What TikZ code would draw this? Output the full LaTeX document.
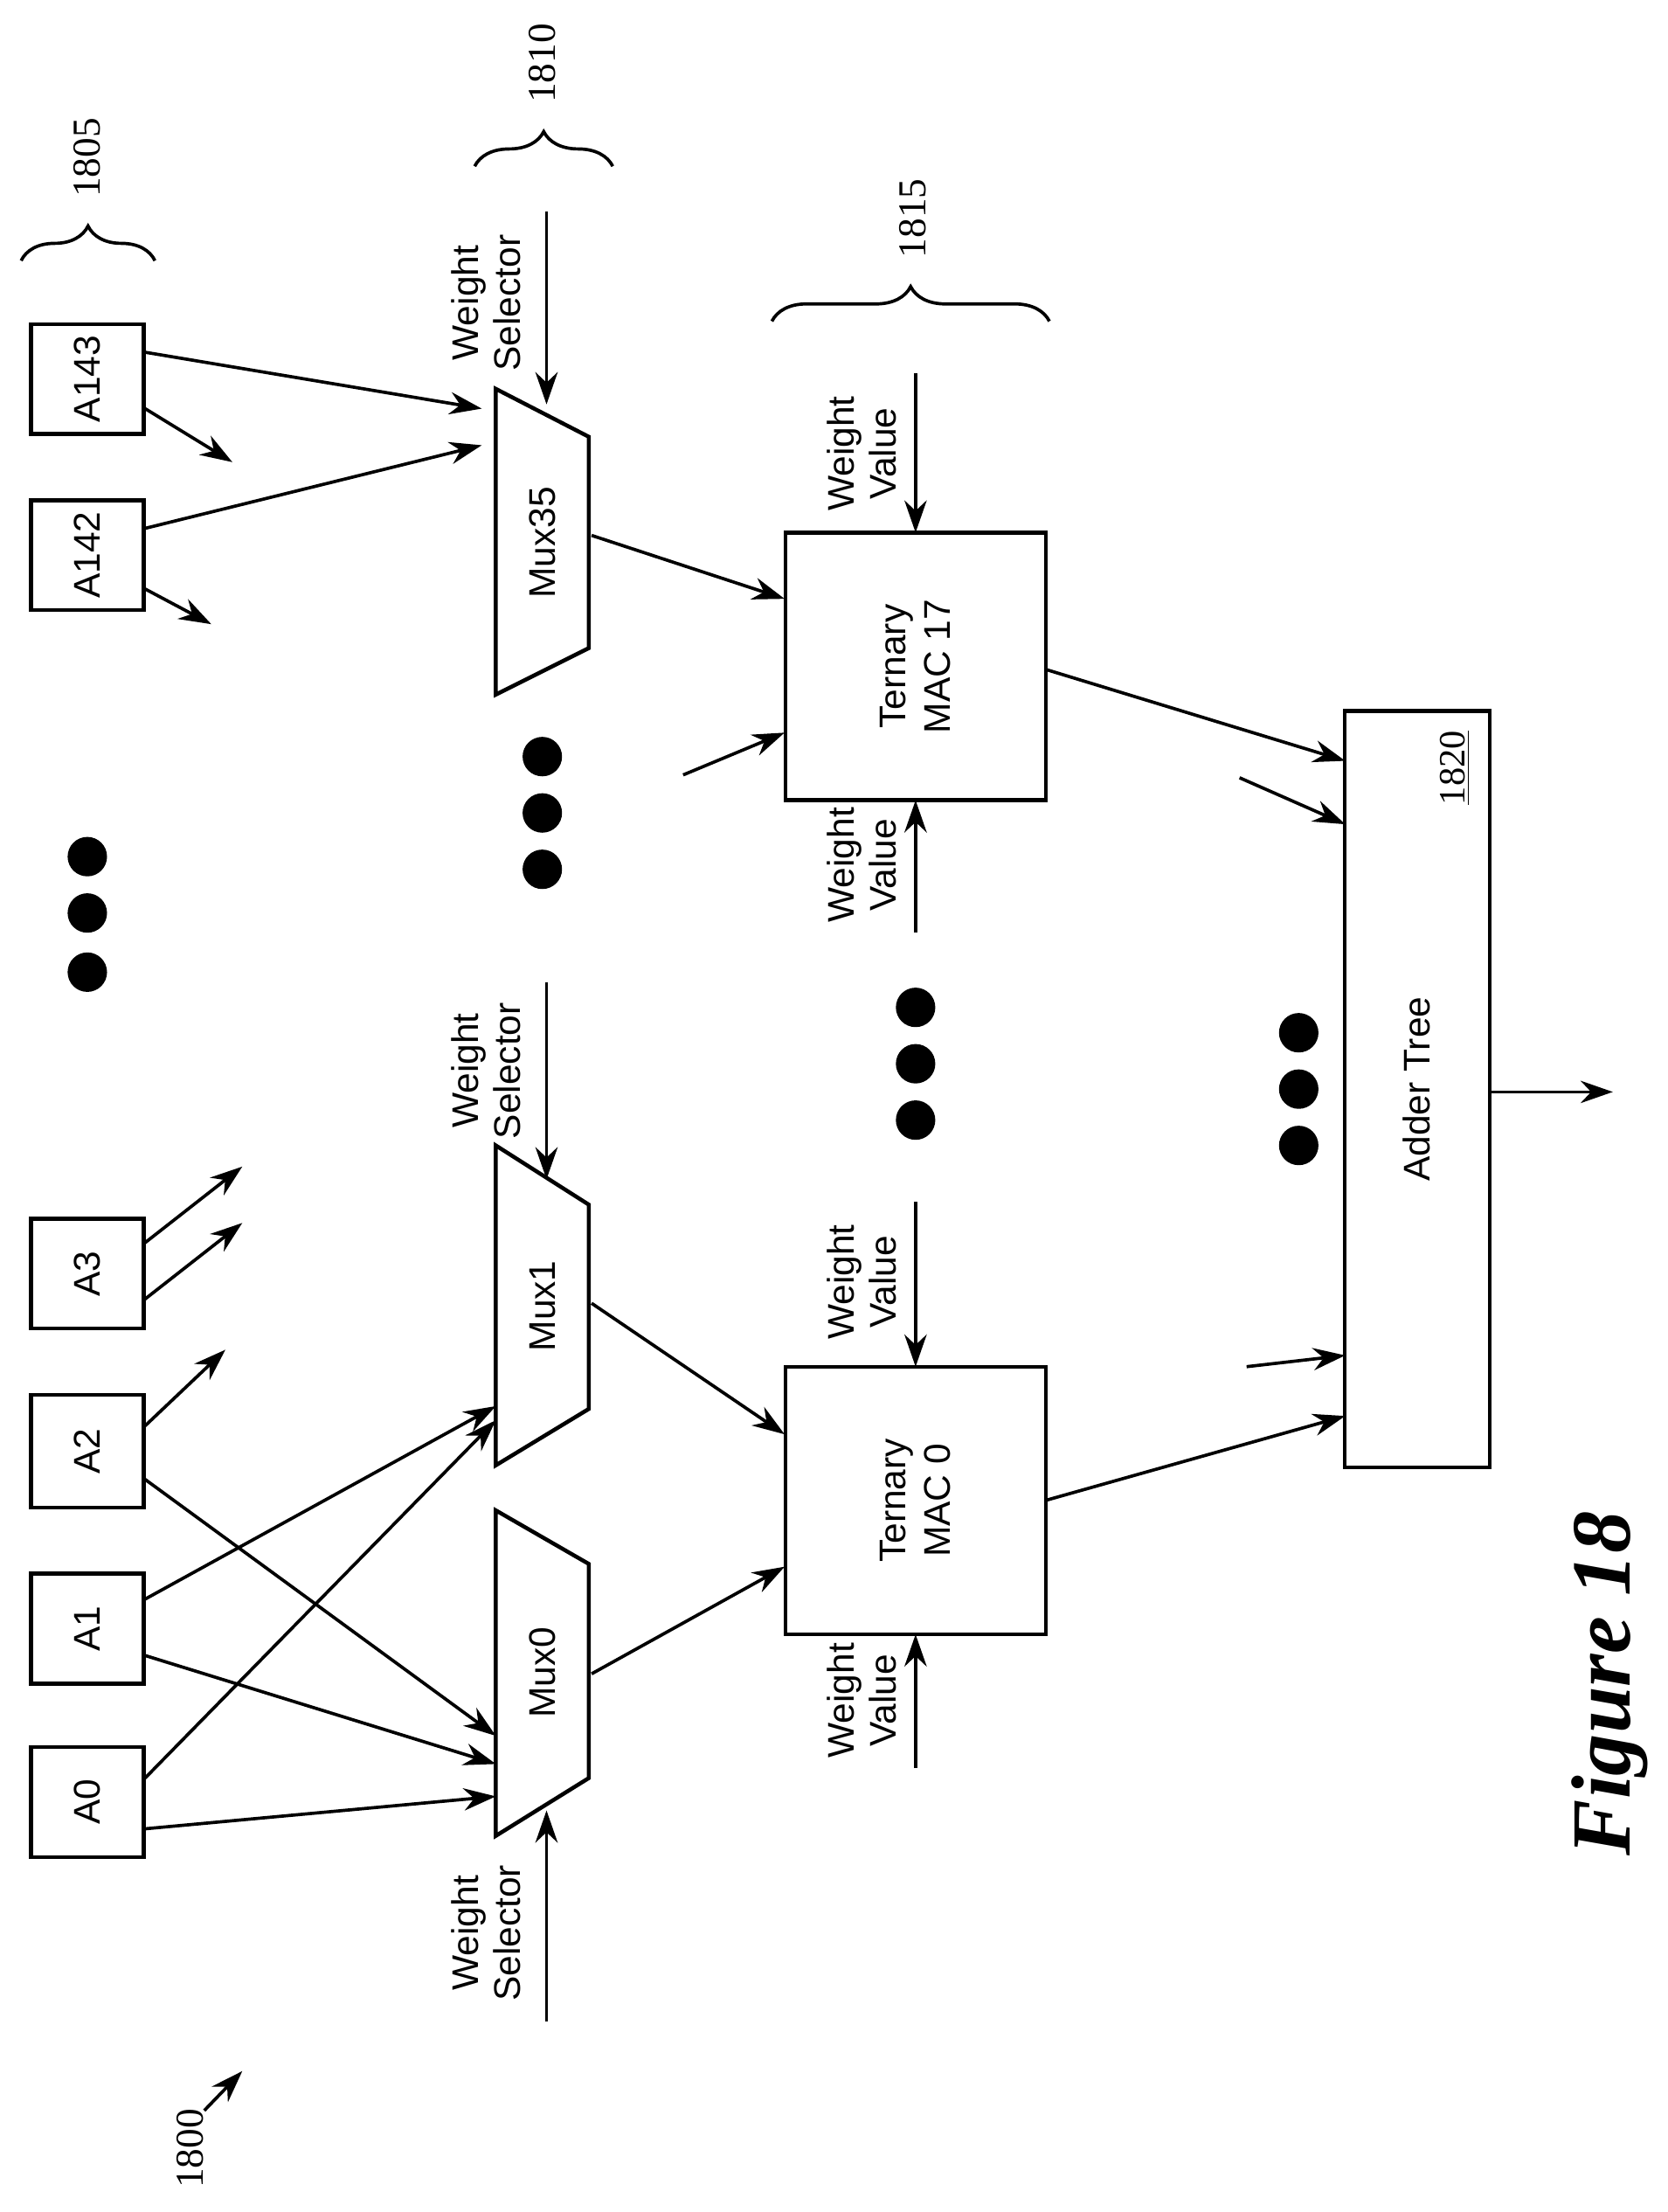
\documentclass[tikz,border=0pt]{standalone}
\usepackage{fontspec}
\setmainfont{Liberation Serif}
\setsansfont{Liberation Sans}
\usetikzlibrary{arrows.meta,decorations.pathreplacing}
\begin{document}
\begin{tikzpicture}[x=0.02cm,y=-0.02cm,>={Stealth[length=13pt,width=9pt]},line width=1.3pt,
    box/.style={draw,line width=1.6pt,rotate=90,font=\sffamily\fontsize{15}{18}\selectfont,align=center,inner sep=0pt},
    lbl/.style={rotate=90,font=\sffamily\fontsize{15}{17}\selectfont,align=center},
    num/.style={rotate=90,font=\fontsize{16}{18}\selectfont},
    dot/.style={circle,fill,inner sep=0pt,minimum size=0.56cm},
    brc/.style={decorate,decoration={brace,amplitude=14pt},line width=1.3pt}]
\useasboundingbox (0,0) rectangle (1184,1570);
% activation boxes
\node[box,minimum width=1.56cm,minimum height=1.6cm] (a0) at (62,1279) {A0};
\node[box,minimum width=1.56cm,minimum height=1.6cm] (a1) at (62,1156) {A1};
\node[box,minimum width=1.6cm,minimum height=1.6cm] (a2) at (62,1030) {A2};
\node[box,minimum width=1.56cm,minimum height=1.6cm] (a3) at (62,904) {A3};
\node[box,minimum width=1.56cm,minimum height=1.6cm] (a142) at (62,394) {A142};
\node[box,minimum width=1.56cm,minimum height=1.6cm] (a143) at (62,269) {A143};
% braces
\draw[brc] (15,185) -- (110,185);
\node[num] (n1805) at (62,112) {1805};
\draw[brc] (337,118) -- (435,118);
\node[num] (n1810) at (385,45) {1810};
\draw[brc] (548,228) -- (745,228);
\node[num] (n1815) at (648,155) {1815};
% muxes
\draw[line width=1.6pt] (352,276) -- (418,310) -- (418,460) -- (352,493) -- cycle;
\node[lbl] (mux35) at (385,385) {Mux35};
\draw[line width=1.6pt] (352,813) -- (418,855) -- (418,1000) -- (352,1040) -- cycle;
\node[lbl] (mux1) at (385,927) {Mux1};
\draw[line width=1.6pt] (352,1072) -- (418,1110) -- (418,1262) -- (352,1303) -- cycle;
\node[lbl] (mux0) at (385,1187) {Mux0};
% MACs and adder
\node[box,minimum width=3.8cm,minimum height=3.7cm] (mac17) at (650,473) {Ternary\\MAC 17};
\node[box,minimum width=3.8cm,minimum height=3.7cm] (mac0) at (650,1065) {Ternary\\MAC 0};
\node[box,minimum width=10.74cm,minimum height=2.06cm] (adder) at (1006,773) {Adder Tree};
\node[num,font=\fontsize{15}{17}\selectfont] (n1820) at (1033,545) {\underline{1820}};
% dots
\foreach \x/\y in {62/608,62/648,62/690,385/537,385/577,385/617,650/715,650/755,650/795,922/733,922/773,922/813}
  \node[dot] at (\x,\y) {};
% weight selectors
\coordinate (ws35) at (388,150); \coordinate (ws1) at (388,697); \coordinate (ws0) at (388,1435);
\draw[->] (ws35) -- (388,287);
\draw[->] (ws1) -- (388,837);
\draw[->] (ws0) -- (388,1285);
\node[lbl] at (345,215) {Weight\\Selector};
\node[lbl] at (345,760) {Weight\\Selector};
\node[lbl] at (345,1372) {Weight\\Selector};
% weight values
\draw[->] (650,265) -- (650,378);
\draw[->] (650,662) -- (650,568);
\draw[->] (650,853) -- (650,970);
\draw[->] (650,1255) -- (650,1160);
\node[lbl] at (612,322) {Weight\\Value};
\node[lbl] at (612,614) {Weight\\Value};
\node[lbl] at (612,910) {Weight\\Value};
\node[lbl] at (612,1207) {Weight\\Value};
% inputs
\draw[->] (103,1298) -- (352,1275);
\draw[->] (103,1262) -- (352,1008);
\draw[->] (103,1135) -- (352,998);
\draw[->] (103,1175) -- (352,1252);
\draw[->] (103,1050) -- (352,1232);
\draw[->] (103,1012) -- (160,958);
\draw[->] (103,882) -- (172,828);
\draw[->] (103,922) -- (172,868);
\draw[->] (103,375) -- (342,316);
\draw[->] (103,418) -- (150,443);
\draw[->] (103,250) -- (342,290);
\draw[->] (103,290) -- (165,328);
% mux to mac
\draw[->] (420,380) -- (557,425);
\draw[->] (420,925) -- (557,1018);
\draw[->] (420,1188) -- (557,1112);
\draw[->] (485,550) -- (557,520);
% mac to adder
\draw[->] (742,475) -- (955,540);
\draw[->] (880,552) -- (955,585);
\draw[->] (885,970) -- (955,962);
\draw[->] (742,1065) -- (955,1005);
\draw[->] (1058,775) -- (1145,775);
% labels
\node[num] (n1800) at (135,1525) {1800};
\draw[->] (145,1498) -- (172,1470);
\node[rotate=90,font=\bfseries\itshape\fontsize{34}{36}\selectfont] (fig) at (1143,1195) {Figure 18};
\end{tikzpicture}
\end{document}
